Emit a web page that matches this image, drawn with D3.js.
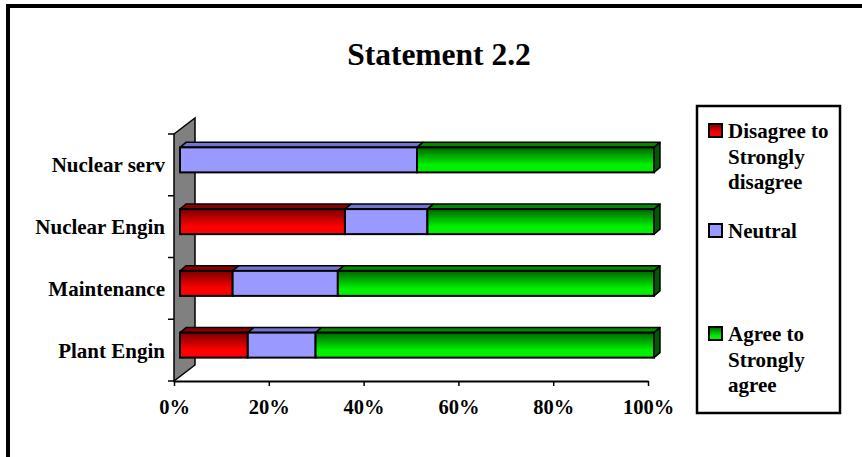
<!DOCTYPE html>
<html>
<head>
    <title>Statement 2.2</title>
    <script src="https://d3js.org/d3.v7.min.js"></script>
    <style>
        body { margin: 0; background: #fff; }
        text { font-family: "Liberation Serif", "Times New Roman", serif; font-weight: bold; fill: #000; }
    </style>
</head>
<body>
    <div id="svg"></div>
    <script>
        // chart data, bottom row first
        var categories = ["Plant Engin", "Maintenance", "Nuclear Engin", "Nuclear serv"];
        var disagree = [14.3, 11.1, 34.8, 0];
        var neutral = [14.3, 22.2, 17.4, 50.0];
        var agree = [71.4, 66.7, 47.8, 50.0];
        var seriesNames = [["Disagree to", "Strongly", "disagree"], ["Neutral"], ["Agree to", "Strongly", "agree"]];
        var tickValues = [0, 20, 40, 60, 80, 100];

        var width = 862, height = 457;

        var svg = d3.select("#svg")
            .append("svg")
            .attr("width", width)
            .attr("height", height);

        var defs = svg.append("defs");
        function grad(id, c0, c1) {
            var g = defs.append("linearGradient").attr("id", id)
                .attr("x1", 0).attr("y1", 0).attr("x2", 0).attr("y2", 1);
            g.append("stop").attr("offset", "0%").attr("stop-color", c0);
            g.append("stop").attr("offset", "70%").attr("stop-color", c1);
            g.append("stop").attr("offset", "100%").attr("stop-color", c1);
        }
        grad("gRed", "#7a0000", "#ff0000");
        grad("gGreen", "#006400", "#00f000");

        var styles = [
            { front: "url(#gRed)", top: "#8a0000", side: "#700000" },
            { front: "#9999ff", top: "#7373d2", side: "#6b6bc0" },
            { front: "url(#gGreen)", top: "#008a00", side: "#005a00" }
        ];

        // outer frame
        svg.append("rect")
            .attr("x", 8).attr("y", 6)
            .attr("width", 900).attr("height", 500)
            .style("fill", "none").style("stroke", "#000").style("stroke-width", 4);

        svg.append("text")
            .attr("x", 439).attr("y", 65)
            .attr("text-anchor", "middle")
            .style("font-size", "31.5px")
            .text("Statement 2.2");

        var x = d3.scaleLinear().domain([0, 100]).range([174, 648]);
        var y = d3.scaleBand()
            .domain(categories.slice().reverse())
            .range([134, 381])
            .paddingInner(0.595)
            .paddingOuter(0.2975);

        var depth = [21, -16];   // wall depth
        var off = [6, -5];       // bar front offset into depth
        var bd = [6, -5];        // bar own depth

        // side wall
        var y0 = y.range()[0], y1 = y.range()[1], x0 = x(0);
        svg.append("path")
            .attr("d", d3.line()([[x0, y0], [x0 + depth[0], y0 + depth[1]], [x0 + depth[0], y1 + depth[1]], [x0, y1]]) + "Z")
            .style("fill", "#808080").style("stroke", "#000").style("stroke-width", 1.5);

        // left ticks at band boundaries
        var bounds = categories.slice().reverse().map(function (c) { return y(c) - y.step() * y.paddingInner() / 2; });
        bounds.push(y1);
        svg.selectAll(".ltick").data(bounds).enter()
            .append("line")
            .attr("x1", x0 - 6).attr("x2", x0)
            .attr("y1", function (d) { return d; }).attr("y2", function (d) { return d; })
            .style("stroke", "#000").style("stroke-width", 1.5);

        // bars
        var rows = categories.map(function (c, i) {
            return { cat: c, vals: [disagree[i], neutral[i], agree[i]] };
        });

        rows.forEach(function (r) {
            var acc = 0;
            var last = -1;
            r.vals.forEach(function (v, k) { if (v > 0) last = k; });
            r.vals.forEach(function (v, k) {
                if (v <= 0) { return; }
                var xa = x(acc) + off[0], xb = x(acc + v) + off[0];
                var ya = y(r.cat) + off[1], yb = ya + y.bandwidth();
                acc += v;
                var st = styles[k];
                var g = svg.append("g");
                g.append("path")
                    .attr("d", d3.line()([[xa, ya], [xa + bd[0], ya + bd[1]], [xb + bd[0], ya + bd[1]], [xb, ya]]) + "Z")
                    .style("fill", st.top).style("stroke", "#000").style("stroke-width", 1.5)
                    .style("stroke-linejoin", "round");
                g.append("rect")
                    .attr("x", xa).attr("y", ya)
                    .attr("width", xb - xa).attr("height", yb - ya)
                    .style("fill", st.front).style("stroke", "#000").style("stroke-width", 2);
                if (k === last) {
                    g.append("path")
                        .attr("d", d3.line()([[xb, ya], [xb + bd[0], ya + bd[1]], [xb + bd[0], yb + bd[1]], [xb, yb]]) + "Z")
                        .style("fill", st.side).style("stroke", "#000").style("stroke-width", 1.5)
                        .style("stroke-linejoin", "round");
                }
            });
        });

        // category labels
        svg.selectAll(".clabel").data(categories).enter()
            .append("text")
            .attr("x", x0 - 9)
            .attr("y", function (d) { return y(d) + y.bandwidth() / 2; })
            .attr("dy", "0.36em")
            .attr("text-anchor", "end")
            .style("font-size", "21px")
            .text(function (d) { return d; });

        // bottom axis
        var xAxis = svg.append("g")
            .attr("transform", "translate(0," + y1 + ")")
            .call(d3.axisBottom(x).tickValues(tickValues).tickFormat(function (d) { return d + "%"; }).tickSize(5).tickSizeOuter(0).tickPadding(13));
        xAxis.select(".domain").style("stroke", "#000").style("stroke-width", 2);
        xAxis.selectAll(".tick line").style("stroke", "#000").style("stroke-width", 1.5);
        xAxis.selectAll(".tick text")
            .style("font-size", "20.5px")
            .style("font-family", "'Liberation Serif', 'Times New Roman', serif")
            .style("font-weight", "bold");

        // legend
        svg.append("rect")
            .attr("x", 697).attr("y", 106)
            .attr("width", 143).attr("height", 307)
            .style("fill", "#fff").style("stroke", "#000").style("stroke-width", 2.5);

        var legendY = [124, 224, 327];
        seriesNames.forEach(function (lines, k) {
            svg.append("rect")
                .attr("x", 709).attr("y", legendY[k])
                .attr("width", 13).attr("height", 13)
                .style("fill", styles[k].front).style("stroke", "#000").style("stroke-width", 2);
            var t = svg.append("text")
                .attr("x", 728).attr("y", legendY[k] + 14)
                .style("font-size", "21px");
            lines.forEach(function (l, i) {
                t.append("tspan").attr("x", 728).attr("dy", i === 0 ? 0 : 25.5).text(l);
            });
        });
    </script>
</body>
</html>
